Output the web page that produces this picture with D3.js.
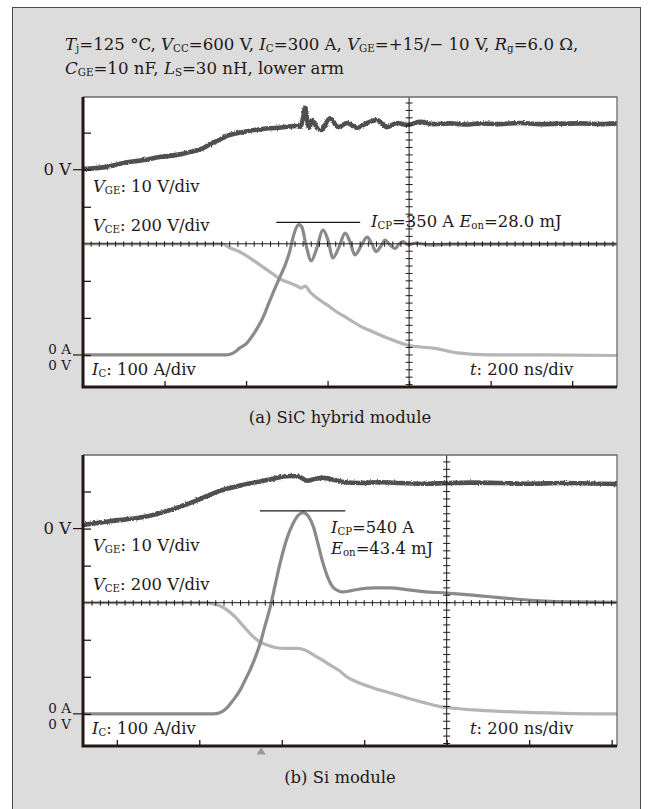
<!DOCTYPE html>
<html>
<head>
<meta charset="utf-8">
<script src="https://cdn.jsdelivr.net/npm/d3@7"></script>
<style>
  body { margin: 0; background: #fff; }
  text { font-family: "DejaVu Serif", serif; fill: #231815; }
</style>
</head>
<body>
<script>
var svgWidth = 652;
var svgHeight = 809;

// time in ns (0 = centre graticule line), V_GE in V, I_C in A, V_CE in V
// (a) SiC hybrid module
var vgeA = [[-800,0.2],[-746,0.7],[-692,2.0],[-650,2.6],[-611,3.4],[-570,4.0],[-537,4.8],[-510,5.6],
  [-488,6.9],[-467,8.0],[-447,9.1],[-420,9.9],[-398,10.4],[-360,11.0],[-324,11.3],[-290,11.7],
  [-275,11.8],[-267,11.6],[-260,14.0],[-255,16.7],[-250,13.4],[-245,11.3],[-238,13.4],[-226,11.3],
  [-216,10.7],[-194,13.9],[-174,11.5],[-152,12.6],[-128,11.3],[-103,12.6],[-79,13.4],[-54,11.5],
  [-29,12.6],[-5,12.1],[27,12.9],[60,12.3],[101,12.5],[140,12.2],[174,12.5],[220,12.3],[272,12.6],
  [320,12.3],[371,12.4],[420,12.5],[470,12.3],[510,12.5]];
var icA = [[-800,0],[-449,0],[-432,5],[-415,19],[-398,32],[-383,54],[-371,75],[-358,102],[-346,135],
  [-334,167],[-317,210],[-304,243],[-292,283],[-285,316],[-277,343],[-270,352],[-263,345],[-253,297],
  [-240,254],[-228,283],[-211,337],[-199,310],[-187,262],[-172,291],[-157,329],[-145,305],[-133,270],
  [-118,294],[-103,318],[-91,299],[-81,279],[-69,294],[-59,310],[-47,297],[-34,287],[-25,299],
  [-15,306],[-2,297],[15,302],[52,297],[101,299],[223,299],[510,299]];
var vceA = [[-800,600],[-459,600],[-439,577],[-415,556],[-390,523],[-366,486],[-341,448],[-317,410],
  [-292,388],[-275,372],[-265,361],[-255,372],[-243,340],[-226,307],[-201,270],[-177,232],[-152,199],
  [-120,156],[-88,124],[-47,86],[-5,54],[27,43],[59,37],[118,11],[199,0],[321,0],[510,-3]];

// (b) Si module
var vgeB = [[-882,1.0],[-816,2.0],[-736,3.1],[-671,5.0],[-615,7.2],[-557,9.9],[-494,11.8],[-436,13.1],
  [-380,14.2],[-356,13.9],[-339,12.9],[-320,13.4],[-300,13.7],[-251,12.6],[-210,12.3],[-160,12.5],
  [-113,12.3],[-60,12.1],[8,12.3],[60,12.4],[129,12.3],[200,12.1],[280,12.3],[413,12.0]];
var icB = [[-882,0],[-567,0],[-550,3],[-533,16],[-518,37],[-501,64],[-489,91],[-477,118],[-464,153],
  [-452,191],[-440,240],[-428,288],[-416,348],[-404,407],[-387,475],[-372,515],[-360,536],[-348,543],
  [-336,534],[-323,504],[-312,458],[-300,407],[-288,367],[-276,342],[-263,332],[-251,329],[-234,332],
  [-210,337],[-174,340],[-137,340],[-101,336],[-57,330],[0,326],[56,321],[105,316],[166,310],
  [226,305],[299,302],[413,301]];
var vceB = [[-882,600],[-581,600],[-566,593],[-549,582],[-533,561],[-513,523],[-494,476],[-470,418],
  [-453,388],[-436,372],[-416,358],[-392,353],[-363,353],[-344,345],[-323,318],[-302,291],[-283,264],
  [-259,231],[-242,199],[-218,172],[-178,140],[-137,113],[-96,86],[-57,62],[-16,39],[25,29],[64,21],
  [146,12],[282,3],[413,0]];

// peak markers: [t start, t end, I_C level]
var peakA = [-326, -120, 358];
var peakB = [-453, -246, 548];

// text
var titleLine1 = [["T","i"],["j","s"],["=125 °C, "],["V","i"],["CC","s"],["=600 V, "],["I","i"],["C","s"],
  ["=300 A, "],["V","i"],["GE","s"],["=+15/\u2212 10 V, "],["R","i"],["g","s"],["=6.0 \u03a9,"]];
var titleLine2 = [["C","i"],["GE","s"],["=10 nF, "],["L","i"],["S","s"],["=30 nH, lower arm"]];
var vgeLabel = [["V","i"],["GE","s"],[": 10 V/div"]];
var vceLabel = [["V","i"],["CE","s"],[": 200 V/div"]];
var icLabel = [["I","i"],["C","s"],[": 100 A/div"]];
var tLabel = [["t","i"],[": 200 ns/div"]];
var peakTextA = [["I","i"],["CP","s"],["=350 A "],["E","i"],["on","s"],["=28.0 mJ"]];
var peakTextB1 = [["I","i"],["CP","s"],["=540 A"]];
var peakTextB2 = [["E","i"],["on","s"],["=43.4 mJ"]];

var boxLeft = 83, boxRight = 617, divPx = 37.05;
var fs = 16.4;

var panels = [
  {top: 97, bottom: 387, center: 243.8, t0: -800, t1: 510, vgeZero: 2,
   vge: vgeA, ic: icA, vce: vceA, peak: peakA, caption: "(a) SiC hybrid module", captionY: 423},
  {top: 455, bottom: 746, center: 602.7, t0: -882, t1: 413, vgeZero: 2,
   vge: vgeB, ic: icB, vce: vceB, peak: peakB, caption: "(b) Si module", captionY: 783}
];

var svg = d3.select("body")
  .append("svg")
  .attr("width", svgWidth)
  .attr("height", svgHeight);

// scope traces are a little fuzzy
var filt = svg.append("defs").append("filter")
  .attr("id", "fuzz")
  .attr("x", "-5%").attr("y", "-20%").attr("width", "110%").attr("height", "140%");
filt.append("feTurbulence")
  .attr("type", "fractalNoise").attr("baseFrequency", 0.7)
  .attr("numOctaves", 1).attr("seed", 4).attr("result", "noise");
filt.append("feDisplacementMap")
  .attr("in", "SourceGraphic").attr("in2", "noise")
  .attr("scale", 3).attr("xChannelSelector", "R").attr("yChannelSelector", "G");

// frame
svg.append("rect")
  .attr("x", 12.5).attr("y", 7.5)
  .attr("width", 628).attr("height", 820)
  .attr("fill", "#dcdcdc")
  .attr("stroke", "#4a4a4a")
  .attr("stroke-width", 1);

function addParts(t, parts, size) {
  var shifted = false;
  parts.forEach(function(p) {
    var s = t.append("tspan").text(p[0]);
    if (p[1] === "i") s.attr("font-style", "italic");
    if (p[1] === "s") {
      s.attr("font-size", size * 0.62).attr("dy", 2);
      shifted = true;
    } else if (shifted) {
      s.attr("dy", -2);
      shifted = false;
    }
  });
}

function richText(g, x, y, parts, size, anchor) {
  var t = g.append("text")
    .attr("x", x).attr("y", y)
    .attr("font-size", size)
    .attr("text-anchor", anchor || "start");
  addParts(t, parts, size);
  return t;
}

richText(svg, 65, 50, titleLine1, 16.6);
richText(svg, 65, 74, titleLine2, 16.6);

var line = d3.line().curve(d3.curveMonotoneX);

panels.forEach(function(p, idx) {
  var g = svg.append("g");

  var x = d3.scaleLinear().domain([p.t0, p.t1]).range([boxLeft, boxRight]);
  // y in graticule divisions, 0 = centre line
  var y = d3.scaleLinear()
    .domain([-(p.bottom - p.center) / divPx, (p.center - p.top) / divPx])
    .range([p.bottom, p.top]);

  g.append("rect")
    .attr("x", boxLeft).attr("y", p.top)
    .attr("width", boxRight - boxLeft).attr("height", p.bottom - p.top)
    .attr("fill", "#fff");

  var icY = d => y(d / 100 - 3);
  var vceY = d => y(d / 200 - 3);
  var vgeY = d => y(d / 10 + p.vgeZero);

  g.append("path")
    .attr("d", line.x(d => x(d[0])).y(d => vceY(d[1]))(p.vce))
    .attr("fill", "none").attr("stroke", "#b5b5b5").attr("stroke-width", 3.2);

  g.append("path")
    .attr("d", line.x(d => x(d[0])).y(d => icY(d[1]))(p.ic))
    .attr("fill", "none").attr("stroke", "#8a8a8a").attr("stroke-width", 3.2);

  g.append("path")
    .attr("d", line.x(d => x(d[0])).y(d => vgeY(d[1]))(p.vge))
    .attr("fill", "none").attr("stroke", "#505050").attr("stroke-width", 4.6)
    .attr("filter", "url(#fuzz)");

  // centre graticule lines with minor ticks
  var cross = g.append("g").attr("stroke", "#231815").attr("stroke-width", 1);
  cross.append("line")
    .attr("x1", x(0)).attr("x2", x(0))
    .attr("y1", p.top).attr("y2", p.bottom);
  cross.append("line")
    .attr("x1", boxLeft).attr("x2", boxRight)
    .attr("y1", y(0)).attr("y2", y(0));

  var vMinor = d3.range(-19, 20).map(d => d / 5)
    .filter(d => y(d) > p.top + 2 && y(d) < p.bottom - 2);
  cross.selectAll(".vm").data(vMinor).enter().append("line")
    .attr("x1", x(0) - 3.5).attr("x2", x(0) + 3.5)
    .attr("y1", d => y(d)).attr("y2", d => y(d));

  var hMinor = d3.range(Math.ceil(p.t0 / 20), Math.floor(p.t1 / 20) + 1).map(d => d * 20)
    .filter(d => x(d) > boxLeft + 3 && x(d) < boxRight - 1);
  cross.selectAll(".hm").data(hMinor).enter().append("line")
    .attr("x1", d => x(d)).attr("x2", d => x(d))
    .attr("y1", y(0) - 2.5).attr("y2", y(0) + 3);

  // peak marker
  g.append("line")
    .attr("x1", x(p.peak[0])).attr("x2", x(p.peak[1]))
    .attr("y1", icY(p.peak[2])).attr("y2", icY(p.peak[2]))
    .attr("stroke", "#231815").attr("stroke-width", 1.2);

  // box edges: thin top/right, heavy left/bottom
  g.append("path")
    .attr("d", `M${boxLeft},${p.top}H${boxRight}V${p.bottom}`)
    .attr("fill", "none").attr("stroke", "#6b6b6b").attr("stroke-width", 1.3);

  var bottomAxis = d3.axisBottom(x)
    .tickValues(d3.range(-800, p.t1, 200))
    .tickSizeInner(-6).tickSizeOuter(0).tickFormat("");
  var xAxis = g.append("g")
    .attr("transform", `translate(0, ${p.bottom})`)
    .call(bottomAxis);
  xAxis.select(".domain").remove();
  xAxis.selectAll("line").attr("stroke", "#231815").attr("stroke-width", 1.3);

  var leftAxis = d3.axisLeft(y)
    .tickValues([-3, -2, -1, 1, 2, 3])
    .tickSizeInner(-8).tickSizeOuter(0).tickFormat("");
  var yAxis = g.append("g")
    .attr("transform", `translate(${boxLeft}, 0)`)
    .call(leftAxis);
  yAxis.select(".domain").remove();
  yAxis.selectAll("line").attr("stroke", "#231815").attr("stroke-width", 1.3);

  g.append("path")
    .attr("d", `M${boxLeft},${p.top}V${p.bottom}H${boxRight}`)
    .attr("fill", "none").attr("stroke", "#231815").attr("stroke-width", 3);

  // outside markers for zero levels
  [y(p.vgeZero), y(-3)].forEach(function(v) {
    g.append("line")
      .attr("x1", 73).attr("x2", boxLeft)
      .attr("y1", v).attr("y2", v)
      .attr("stroke", "#231815").attr("stroke-width", 1.2);
  });

  richText(g, 71, y(p.vgeZero) + 5.5, [["0 V"]], fs, "end");
  // stacked "0 A" (current zero) above "0 V" (V_CE zero)
  richText(g, 71, y(-3) - 1, [["0 A"]], 13.5, "end");
  richText(g, 71, y(-3) + 15, [["0 V"]], 13.5, "end");

  richText(g, 93, p.center - 52, vgeLabel, fs);
  richText(g, 93, p.center - 13, vceLabel, fs);
  richText(g, 92, p.bottom - 12, icLabel, fs);
  richText(g, 470, p.bottom - 12, tLabel, fs);

  if (idx === 0) {
    richText(g, 371, p.center - 17, peakTextA, fs);
  } else {
    richText(g, 331, p.center - 70, peakTextB1, fs);
    richText(g, 331, p.center - 49, peakTextB2, fs);
    g.append("path")
      .attr("d", d3.symbol().type(d3.symbolTriangle).size(34)())
      .attr("transform", `translate(${x(-450)}, ${p.bottom + 6})`)
      .attr("fill", "#999");
  }

  richText(g, 340, p.captionY, [[p.caption]], fs, "middle");
});
</script>
</body>
</html>
